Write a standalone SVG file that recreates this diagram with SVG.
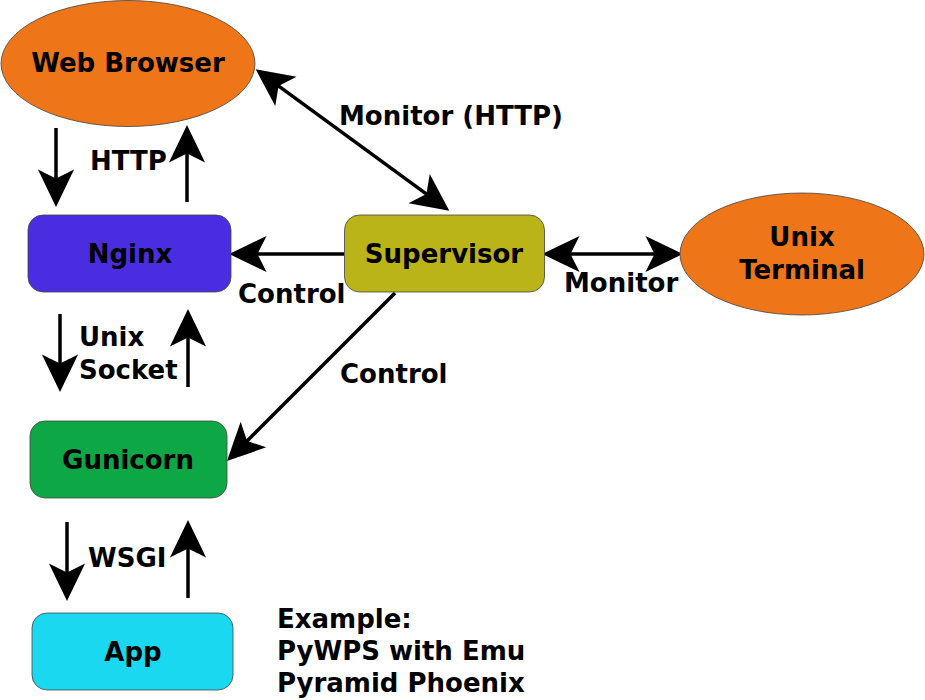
<svg xmlns="http://www.w3.org/2000/svg" width="925" height="700" viewBox="0 0 925 700">
<defs>
<style>
text{font-family:"DejaVu Sans","Liberation Sans",sans-serif;font-weight:bold;font-size:26px;fill:#000}
.c{text-anchor:middle}
.n{stroke:#444;stroke-width:0.8}
.l{stroke:#000;stroke-width:3.5;fill:none;marker-end:url(#ah)}
.d{marker-start:url(#ah)}
</style>
<marker id="ah" markerUnits="userSpaceOnUse" orient="auto-start-reverse" refX="0" refY="0" markerWidth="40" markerHeight="40" viewBox="-20 -15 31 30" overflow="visible">
<path d="M10,0 L-19,-14 L-12,0 L-19,14 Z" fill="#000"/>
</marker>
</defs>
<rect width="925" height="700" fill="#fff"/>
<g id="connectors">
<line class="l" x1="56" y1="128" x2="56" y2="194"/>
<line class="l" x1="187" y1="202" x2="187" y2="138"/>
<line class="l d" x1="266.1" y1="76.9" x2="438.9" y2="203.1"/>
<line class="l" x1="344" y1="254" x2="242" y2="254"/>
<line class="l d" x1="555" y1="254" x2="670" y2="254"/>
<line class="l" x1="395" y1="293" x2="236.1" y2="451.9"/>
<line class="l" x1="60" y1="314" x2="60" y2="379"/>
<line class="l" x1="188" y1="387" x2="188" y2="322"/>
<line class="l" x1="67" y1="522" x2="67" y2="588"/>
<line class="l" x1="188" y1="598" x2="188" y2="533"/>
<text x="90" y="170">HTTP</text>
<text x="339" y="125">Monitor (HTTP)</text>
<text x="238" y="303">Control</text>
<text x="564" y="292">Monitor</text>
<text x="340" y="383">Control</text>
<text x="79" y="346">Unix</text>
<text x="79" y="379">Socket</text>
<text x="88" y="567">WSGI</text>
</g>
<g id="web-browser">
<ellipse class="n" cx="128" cy="63.5" rx="127" ry="63" fill="#ee7518"/>
<text class="c" x="128" y="72">Web Browser</text>
</g>
<g id="nginx">
<rect class="n" x="28" y="215" width="203" height="77" rx="15" fill="#4a2de0"/>
<text class="c" x="130" y="263">Nginx</text>
</g>
<g id="supervisor">
<rect class="n" x="344.5" y="215" width="200" height="77" rx="15" fill="#bab418"/>
<text class="c" x="444" y="263">Supervisor</text>
</g>
<g id="unix-terminal">
<ellipse class="n" cx="802" cy="254" rx="122" ry="61" fill="#ee7518"/>
<text class="c" x="802" y="246">Unix</text>
<text class="c" x="802" y="279">Terminal</text>
</g>
<g id="gunicorn">
<rect class="n" x="30" y="421" width="197" height="77" rx="15" fill="#0da745"/>
<text class="c" x="128" y="469">Gunicorn</text>
</g>
<g id="app">
<rect class="n" x="32" y="613" width="201" height="77" rx="15" fill="#19d8f0"/>
<text class="c" x="133" y="661">App</text>
</g>
<g id="note">
<text x="277" y="628">Example:</text>
<text x="277" y="660">PyWPS with Emu</text>
<text x="277" y="692">Pyramid Phoenix</text>
</g>
</svg>
